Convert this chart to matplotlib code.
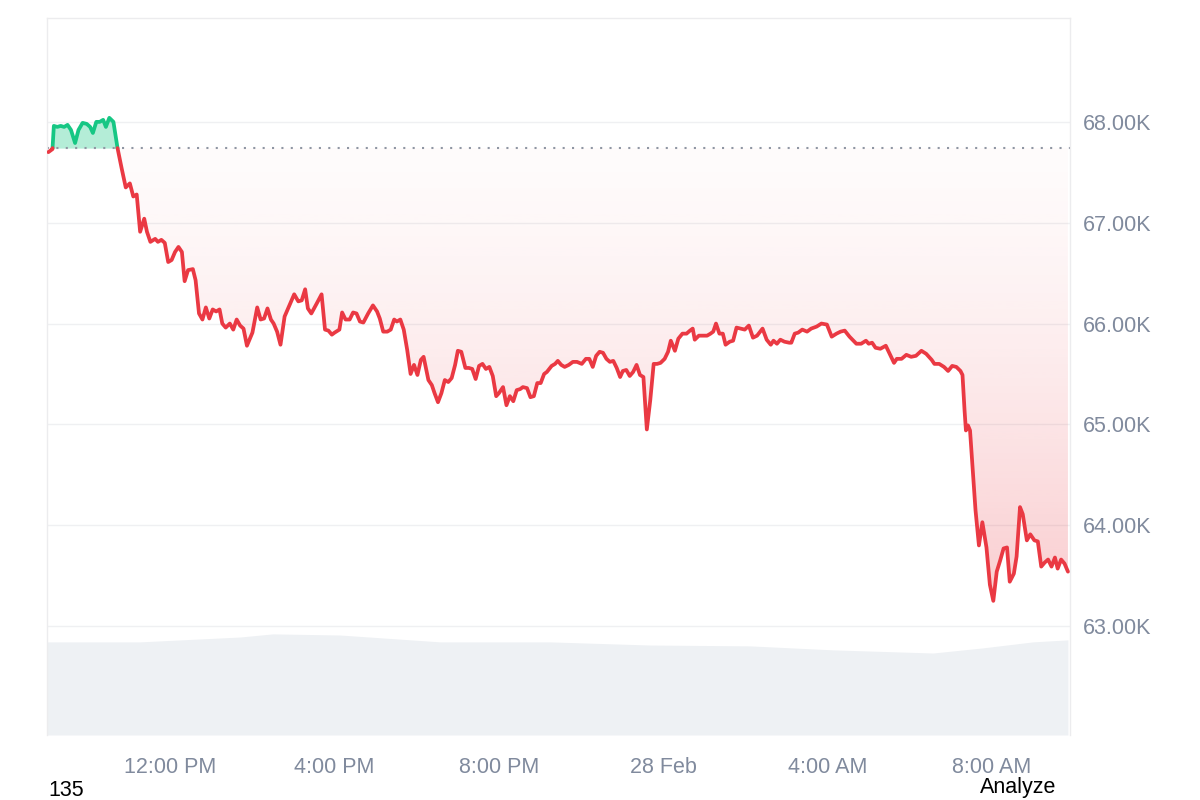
import numpy as np
import matplotlib
matplotlib.use('Agg')
import matplotlib.pyplot as plt
from matplotlib.path import Path
from matplotlib.patches import PathPatch

plt.rcParams['font.family'] = ['Liberation Sans', 'DejaVu Sans']

# minutes after 09:00 on 27 Feb
minutes = [2, 8, 10, 15, 20, 25, 30, 35, 41, 46, 52, 58, 63, 67, 72, 77, 82, 86, 91, 97,
           103, 109, 115, 121, 126, 131, 136, 142, 146, 151, 158, 162, 167, 172, 177, 182, 187, 192, 197, 201,
           206, 213, 217, 222, 227, 232, 237, 242, 247, 252, 256, 261, 267, 272, 277, 282, 287, 292, 300, 307,
           312, 317, 322, 327, 331, 336, 341, 347, 354, 361, 367,
           372, 377, 381, 386, 394, 401, 406, 411, 416, 420, 427, 431, 436, 442, 447, 452, 457, 462, 469,
           476, 482, 486, 491, 497, 502, 507, 511, 516, 521, 526, 531, 536, 541, 546, 550, 557, 562, 566, 571,
           576, 581, 586, 591, 596, 600, 605, 611, 616, 621, 626, 631, 636, 641, 646, 651, 656, 660, 666, 671,
           676, 681, 686, 691, 695, 701, 706, 711, 716, 721,
           726, 730, 737, 742, 746, 751, 756, 762, 768, 774, 781, 787, 792, 797, 802, 807, 812, 817, 822, 827,
           832, 837, 841, 846, 851, 856, 861, 866, 871, 876,
           881, 886, 891, 896, 902, 907, 911, 917, 922, 928, 934, 939, 943, 946, 952, 959, 964, 969, 973, 977,
           982, 987, 991, 997, 1002, 1007, 1013, 1019, 1025, 1031, 1037, 1045, 1051, 1057, 1061, 1066, 1071, 1077, 1084, 1087,
           1092, 1097, 1103, 1110, 1116, 1124, 1131, 1139, 1146, 1153, 1159, 1165, 1172, 1182, 1189, 1196, 1200, 1205, 1210, 1217,
           1225, 1230, 1237, 1241, 1248, 1255, 1262, 1269, 1277, 1284, 1292, 1296, 1303, 1310, 1316, 1322, 1328, 1334, 1337,
           1340, 1342, 1345, 1348, 1352, 1356, 1361, 1366, 1372, 1377, 1382, 1387, 1392, 1397, 1402, 1406, 1412, 1416, 1421, 1425,
           1431, 1436, 1442, 1447, 1452, 1457, 1462, 1467, 1472, 1476, 1481, 1486, 1491]

price = [67700, 67730, 67960, 67950, 67960, 67950, 67970, 67920, 67790, 67920, 67990, 67980, 67950, 67890, 68000, 68000, 68020, 67950, 68040, 68000,
         67740, 67540, 67350, 67390, 67260, 67280, 66910, 67040, 66910, 66810, 66840, 66810, 66830, 66800, 66610, 66630, 66710, 66760, 66710, 66420,
         66530, 66540, 66430, 66100, 66040, 66160, 66050, 66140, 66120, 66140, 66000, 65960, 66000, 65940, 66040, 65980, 65950, 65780, 65910, 66160,
         66040, 66050, 66150, 66040, 66000, 65920, 65790, 66070, 66180, 66290, 66220,
         66230, 66340, 66150, 66100, 66200, 66290, 65940, 65930, 65890, 65910, 65940, 66110, 66040, 66040, 66110, 66100, 66020, 66010, 66100,
         66180, 66120, 66050, 65920, 65920, 65940, 66040, 66020, 66040, 65940, 65740, 65500, 65590, 65490, 65640, 65670, 65440, 65390, 65310, 65220,
         65310, 65440, 65420, 65460, 65590, 65730, 65720, 65560, 65560, 65550, 65450, 65580, 65600, 65550, 65570, 65480, 65280, 65310, 65370, 65190,
         65280, 65230, 65340, 65350, 65370, 65360, 65270, 65280, 65410, 65410,
         65500, 65520, 65580, 65600, 65630, 65590, 65570, 65590, 65620, 65620, 65600, 65650, 65650, 65570, 65680, 65720, 65710, 65650, 65620, 65630,
         65560, 65470, 65530, 65540, 65480, 65520, 65590, 65490, 65470, 64950,
         65240, 65600, 65600, 65610, 65650, 65720, 65830, 65730, 65850, 65900, 65900, 65930, 65950, 65840, 65880, 65880, 65880, 65900, 65920, 66000,
         65900, 65900, 65790, 65820, 65830, 65960, 65950, 65940, 65980, 65860, 65880, 65950, 65840, 65790, 65830, 65800, 65840, 65820, 65810, 65810,
         65900, 65910, 65940, 65920, 65950, 65970, 66000, 65990, 65870, 65900, 65920, 65930, 65870, 65800, 65800, 65830, 65800, 65810, 65760, 65750,
         65780, 65710, 65610, 65650, 65650, 65690, 65670, 65680, 65730, 65700, 65640, 65600, 65600, 65570, 65530, 65580, 65570, 65530, 65490,
         65140, 64940, 64990, 64940, 64550, 64150, 63800, 64030, 63780, 63410, 63250, 63540, 63650, 63770, 63780, 63440, 63520, 63690, 64180, 64110,
         63850, 63910, 63850, 63840, 63590, 63630, 63660, 63590, 63680, 63570, 63660, 63620, 63540]

open_price = 67740

# rolling volume (billions), rough read
vol_minutes = [0, 136, 282, 330, 428, 574, 734, 880, 1026, 1148, 1294, 1367, 1440, 1491]
volume = [32.6, 32.6, 34.3, 35.4, 35.0, 32.6, 32.6, 31.5, 31.2, 29.8, 28.7, 30.5, 32.6, 33.3]

price_ticks = [63000, 64000, 65000, 66000, 67000, 68000]
price_labels = ['63.00K', '64.00K', '65.00K', '66.00K', '67.00K', '68.00K']
time_ticks = [180, 420, 660, 900, 1140, 1380]
time_labels = ['12:00 PM', '4:00 PM', '8:00 PM', '28 Feb', '4:00 AM', '8:00 AM']

green = '#16c784'
red = '#ea3943'
grey_txt = '#808a9d'

t = np.array(minutes, dtype=float)
p = np.array(price, dtype=float)

# add the points where the line crosses the open price
t2, p2 = [t[0]], [p[0]]
for i in range(1, len(t)):
    a, b = p[i-1] - open_price, p[i] - open_price
    if a * b < 0:
        f = a / (a - b)
        t2.append(t[i-1] + f * (t[i] - t[i-1]))
        p2.append(open_price)
    t2.append(t[i])
    p2.append(p[i])
t2 = np.array(t2)
p2 = np.array(p2)

xmax = 1494
ylo, yhi = 61920, 69030

fig = plt.figure(figsize=(12, 8), dpi=100)
pos = [47/1200, 65/800, 1023/1200, 717/800]

# volume underneath
axv = fig.add_axes(pos)
axv.fill_between(vol_minutes, volume, 0, color='#eef1f4', lw=0)
axv.set_xlim(0, xmax)
axv.set_ylim(0, 251)
axv.axis('off')

ax = fig.add_axes(pos)
ax.set_facecolor('none')

for v in price_ticks:
    ax.axhline(v, color='#eff0f2', lw=1, zorder=0)

# green area above open
ax.fill_between(t2, p2, open_price, where=p2 >= open_price, color=green, alpha=0.32, lw=0, zorder=1)

# red gradient area below open
n = 256
levels = np.linspace(ylo, open_price, n)
frac = np.clip((open_price - levels) / (open_price - 63000), 0, 1.2)
alpha = 0.02 + 0.25 * frac ** 1.4
rgba = np.zeros((n, 1, 4))
rgba[..., :3] = matplotlib.colors.to_rgb(red)
rgba[:, 0, 3] = alpha
im = ax.imshow(rgba, extent=[0, xmax, ylo, open_price], origin='lower', aspect='auto', zorder=1)
red_fill = ax.fill_between(t2, p2, open_price, where=p2 <= open_price, facecolor='none', edgecolor='none')
clip = PathPatch(Path.make_compound_path(*red_fill.get_paths()), transform=ax.transData,
                 facecolor='none', edgecolor='none')
ax.add_patch(clip)
im.set_clip_path(clip)

ax.axhline(open_price, color='#8f96a3', lw=1.5, ls=(0, (1, 3.5)), zorder=2)

ax.plot(t2, np.where(p2 >= open_price, p2, np.nan), color=green, lw=2.7, zorder=3, solid_capstyle='round')
ax.plot(t2, np.where(p2 <= open_price, p2, np.nan), color=red, lw=2.7, zorder=3, solid_capstyle='round')

ax.set_xlim(0, xmax)
ax.set_ylim(ylo, yhi)

ax.yaxis.tick_right()
ax.set_yticks(price_ticks)
ax.set_yticklabels(price_labels)
ax.set_xticks(time_ticks)
ax.set_xticklabels(time_labels)
ax.tick_params(axis='y', length=0, pad=9, labelsize=15.5, labelcolor=grey_txt)
ax.tick_params(axis='x', length=0, pad=16, labelsize=15.5, labelcolor=grey_txt)

for s in ['left', 'right', 'top']:
    ax.spines[s].set_color('#ececee')
    ax.spines[s].set_linewidth(1)
ax.spines['bottom'].set_visible(False)

fig.text(48/1200, 1 - 790/800, '135', fontsize=15.5, color='black', va='center', ha='left')
fig.text(980/1200, 1 - 787/800, 'Analyze', fontsize=15.5, color='black', va='center', ha='left')

fig.savefig('out.png', dpi=100)
